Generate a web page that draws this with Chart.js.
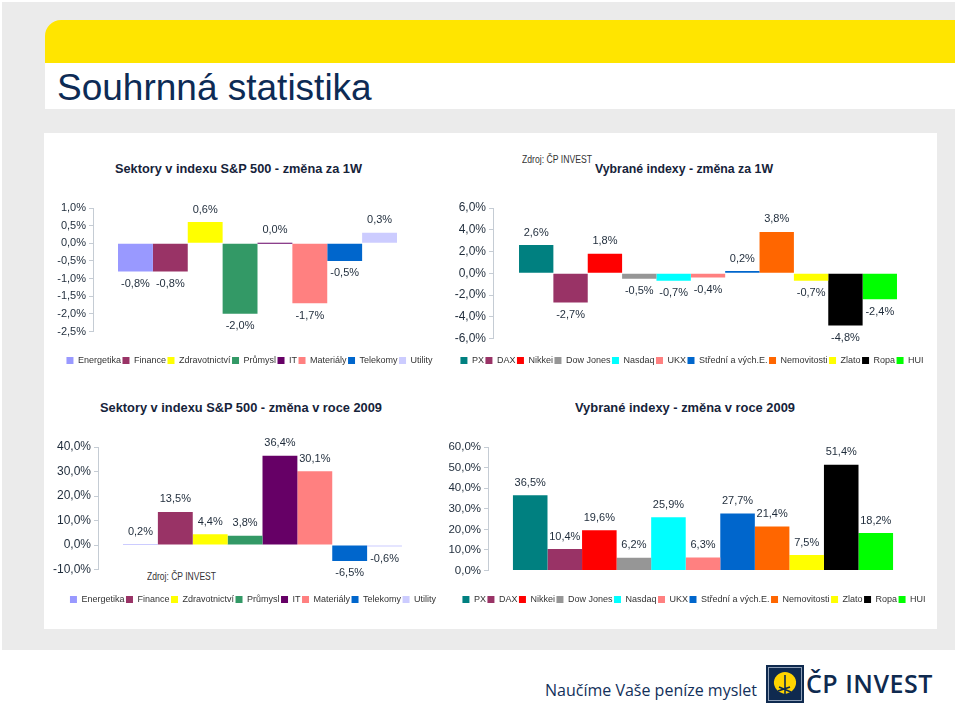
<!DOCTYPE html>
<html><head><meta charset="utf-8">
<script src="https://cdn.jsdelivr.net/npm/chart.js@4.4.0/dist/chart.umd.min.js"></script>
<style>
body{margin:0;width:960px;height:718px;position:relative;background:#fff;font-family:'Liberation Sans',Arial,sans-serif;overflow:hidden}
.abs{position:absolute}
#bg{left:2px;top:2px;width:953px;height:648px;background:#ebebeb}
#band{left:45px;top:20px;width:910px;height:43px;background:#ffe500;border-top-left-radius:16px}
#tband{left:45px;top:63px;width:910px;height:46px;background:#fff}
#panel{left:44px;top:133px;width:893px;height:496px;background:#fff}
#title{left:57px;top:69px;font-size:37px;line-height:37px;color:#0d2b55;white-space:nowrap}
.ct{font-weight:bold;font-size:13px;line-height:13px;color:#16233a;white-space:nowrap;transform-origin:left center;display:inline-block}
.src{font-size:10px;line-height:10px;color:#333;white-space:nowrap;transform-origin:left center;display:inline-block}
canvas{position:absolute}
#foot{left:545px;top:680px;font-family:'Open Sans',sans-serif;font-size:16px;line-height:20px;color:#12305a;white-space:nowrap}
#brand{left:806px;top:668px;font-family:'Open Sans',sans-serif;font-weight:600;font-size:25px;line-height:30px;color:#0f2a4f;white-space:nowrap;letter-spacing:0.5px}
</style></head>
<body>
<div id="bg" class="abs"></div>
<div id="band" class="abs"></div>
<div id="tband" class="abs"></div>
<div id="panel" class="abs"></div>
<div id="title" class="abs">Souhrnná statistika</div>
<div class="abs ct" data-w="247" style="left:115px;top:162px">Sektory v indexu S&amp;P 500 - změna za 1W</div>
<div class="abs src" data-w="70" style="left:522px;top:155px">Zdroj: ČP INVEST</div>
<div class="abs ct" data-w="178" style="left:595px;top:162px">Vybrané indexy - změna za 1W</div>
<div class="abs ct" data-w="282" style="left:100px;top:401px">Sektory v indexu S&amp;P 500 - změna v roce 2009</div>
<div class="abs ct" data-w="220" style="left:575px;top:401px">Vybrané indexy - změna v roce 2009</div>
<div class="abs src" data-w="69" style="left:147px;top:572px">Zdroj: ČP INVEST</div>
<canvas id="c1" width="400" height="185" style="left:50px;top:190px"></canvas>
<canvas id="c2" width="495" height="185" style="left:445px;top:190px"></canvas>
<canvas id="c3" width="407" height="184" style="left:50px;top:430px"></canvas>
<canvas id="c4" width="509" height="184" style="left:440px;top:430px"></canvas>
<div id="foot" class="abs">Naučíme Vaše peníze myslet</div>
<svg class="abs" style="left:766px;top:665px" width="38" height="38" viewBox="0 0 38 38">
<rect x="0" y="0" width="38" height="38" fill="#0f2a4f"/>
<rect x="2.5" y="2.5" width="33" height="33" fill="none" stroke="#8fa0b8" stroke-width="1"/>
<path d="M19 7 C25 7 31 12 30 19 C29 25 24 28 19 29 C14 28 9 25 8 19 C7 12 13 7 19 7 Z" fill="#ffd400"/>
<path d="M19 10 L19 33 M13 22 L25 27 M12 26 L24 22" stroke="#0f2a4f" stroke-width="1.6" fill="none"/>
</svg>
<div id="brand" class="abs">ČP INVEST</div>
<script>
// ---- data ----
const sectorNames = ['Energetika','Finance','Zdravotnictví','Průmysl','IT','Materiály','Telekomy','Utility'];
const sectorColors = ['#9999ff','#993366','#ffff00','#339966','#660066','#ff8080','#0066cc','#ccccff'];
const sectorWeek = [-0.8,-0.8,0.6,-2.0,0.0,-1.7,-0.5,0.3];
const sectorYear = [0.2,13.5,4.4,3.8,36.4,30.1,-6.5,-0.6];

const indexNames = ['PX','DAX','Nikkei','Dow Jones','Nasdaq','UKX','Střední a vých.E.','Nemovitosti','Zlato','Ropa','HUI'];
const indexColors = ['#008080','#993366','#ff0000','#969696','#00ffff','#ff8080','#0066cc','#ff6600','#ffff00','#000000','#00ff00'];
const indexWeek = [2.6,-2.7,1.8,-0.5,-0.7,-0.4,0.2,3.8,-0.7,-4.8,-2.4];
const indexYear = [36.5,10.4,19.6,6.2,25.9,6.3,27.7,21.4,7.5,51.4,18.2];

const yTicks1 = {min:-2.5, max:1.0, step:0.5};
const yTicks2 = {min:-6, max:6, step:2};
const yTicks3 = {min:-10, max:40, step:10};
const yTicks4 = {min:0, max:60, step:10};

// ---- helpers ----
const SANS = "'Liberation Sans', Arial, sans-serif";
const TXT = '#1e2b3a';
const AX = '#c5ccd4';
function fmt(v){ if (Math.abs(v) < 1e-9) v = 0; return v.toFixed(1).replace('.', ',') + '%'; }

const valueLabels = {
  id:'valueLabels',
  afterDatasetsDraw(chart, args, opts){
    const ctx = chart.ctx;
    ctx.save();
    ctx.font = opts.size + "px " + SANS;
    ctx.fillStyle = TXT; ctx.textAlign = 'center'; ctx.textBaseline = 'middle';
    chart.data.datasets.forEach((ds, i) => {
      chart.getDatasetMeta(i).data.forEach((el, j) => {
        const v = ds.data[j];
        const y = v >= 0 ? Math.min(el.y, el.base) - opts.offset : Math.max(el.y, el.base) + opts.offset;
        ctx.fillText(fmt(v), el.x, y);
      });
    });
    ctx.restore();
  }
};

function makeChart(id, names, values, colors, t, cfg){
  return new Chart(document.getElementById(id), {
    type:'bar',
    data:{labels:[''], datasets: names.map((n,i)=>({label:n, data:[values[i]], backgroundColor:colors[i], borderWidth:0,
      barPercentage:1, categoryPercentage:cfg.cat, minBarLength:1, yAxisID:'y'}))},
    options:{
      responsive:false, animation:false, devicePixelRatio:1,
      layout:{padding:cfg.pad},
      plugins:{
        legend:{position:'bottom', labels:{boxWidth:7, boxHeight:7, padding:1.5, color:'#333', font:{family:SANS, size:9}}},
        tooltip:{enabled:false},
        valueLabels:{size:11, offset:12.5}
      },
      scales:{
        x:{display:true, grid:{display:false}, border:{display:false}, ticks:{display:false}, afterFit:s=>{s.height=cfg.xh;}},
        y:{min:t.min, max:t.max, ticks:{stepSize:t.step, autoSkip:false, callback:v=>fmt(v), color:TXT, padding:3, font:{family:SANS, size:cfg.tick}},
           grid:{drawOnChartArea:false, drawTicks:true, tickLength:4, color:AX}, border:{color:AX},
           afterFit:s=>{s.width=cfg.yw;}},
        yr:{position:'right', display:true, grid:{display:false}, border:{display:false}, ticks:{display:false},
           afterFit:s=>{s.width=cfg.rw;}}
      }
    },
    plugins:[valueLabels]
  });
}

makeChart('c1', sectorNames, sectorWeek, sectorColors, yTicks1, {cat:0.848, pad:{top:18,right:1,left:0,bottom:0}, xh:23, yw:43, rw:27, tick:11});
makeChart('c2', indexNames, indexWeek, indexColors, yTicks2, {cat:0.879, pad:{top:18,right:1,left:0,bottom:0}, xh:16, yw:48, rw:16, tick:12});
makeChart('c3', sectorNames, sectorYear, sectorColors, yTicks3, {cat:0.848, pad:{top:17,right:1,left:0,bottom:0}, xh:24, yw:48, rw:29, tick:12});
makeChart('c4', indexNames, indexYear, indexColors, yTicks4, {cat:0.884, pad:{top:17,right:1,left:0,bottom:0}, xh:23, yw:48, rw:30, tick:11.5});

document.querySelectorAll('[data-w]').forEach(el=>{
  const w = el.getBoundingClientRect().width;
  el.style.transform = 'scaleX(' + (parseFloat(el.dataset.w)/w) + ')';
});
</script>
</body></html>
